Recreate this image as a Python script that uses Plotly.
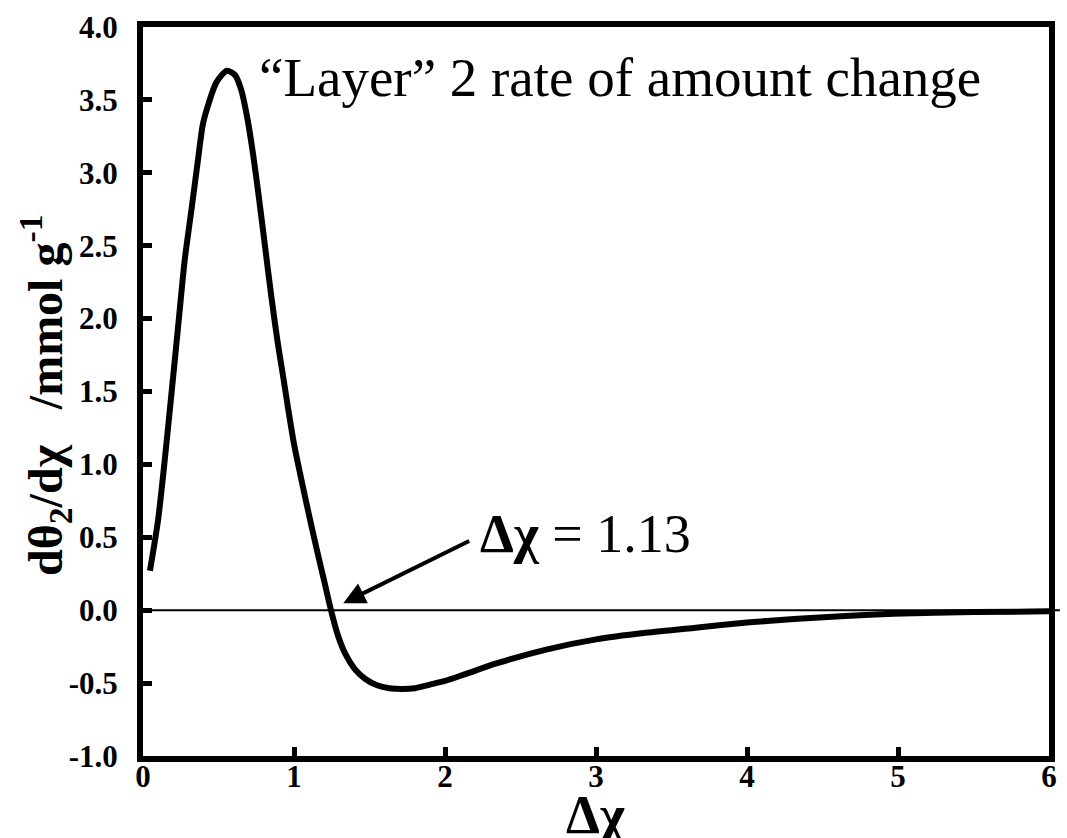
import plotly.graph_objects as go

# Rate of change of "layer" 2 amount versus Δχ
delta_chi = [0.046, 0.100, 0.144, 0.188, 0.232, 0.276, 0.320, 0.363, 0.396, 0.427,
             0.486, 0.555, 0.610, 0.650, 0.690, 0.730, 0.770, 0.810, 0.850, 0.890,
             0.930, 0.960, 1.000, 1.050, 1.100, 1.150, 1.200, 1.245, 1.290, 1.340,
             1.400, 1.470, 1.550, 1.630, 1.720, 1.800, 1.900, 2.000, 2.130, 2.340,
             2.670, 3.000, 3.330, 3.660, 4.000, 4.310, 4.650, 4.970, 5.500, 6.000]
rate = [0.27, 0.62, 1.03, 1.48, 1.94, 2.40, 2.74, 3.08, 3.33, 3.45,
        3.62, 3.70, 3.67, 3.57, 3.38, 3.12, 2.81, 2.48, 2.15, 1.85,
        1.59, 1.39, 1.14, 0.89, 0.65, 0.42, 0.20, 0.0, -0.17, -0.30,
        -0.40, -0.47, -0.515, -0.535, -0.54, -0.535, -0.51, -0.485, -0.44, -0.365,
        -0.27, -0.20, -0.155, -0.12, -0.085, -0.06, -0.04, -0.025, -0.013, -0.008]

x_ticks = [0, 1, 2, 3, 4, 5, 6]
x_tick_text = ["0", "1", "2", "3", "4", "5", "6"]
y_ticks = [4.0, 3.5, 3.0, 2.5, 2.0, 1.5, 1.0, 0.5, 0.0, -0.5, -1.0]
y_tick_text = ["4.0", "3.5", "3.0", "2.5", "2.0", "1.5", "1.0", "0.5", "0.0", "-0.5", "-1.0"]

crossing_value = "1.13"
arrow_tip = (1.326, 0.048)
arrow_tail = (2.17, 0.48)

serif = "Liberation Serif"

fig = go.Figure()
fig.add_trace(go.Scatter(
    x=delta_chi, y=rate, mode="lines",
    line=dict(color="black", width=6, shape="spline", smoothing=0.7),
    showlegend=False, hoverinfo="skip",
))

# zero reference line, running slightly past the right frame
fig.add_shape(type="line", xref="paper", yref="y", x0=0, x1=1.012, y0=0, y1=0,
              line=dict(color="black", width=2), layer="below")

axis_common = dict(
    showline=True, linecolor="black", linewidth=6, mirror=True,
    ticks="inside", tickcolor="black", tickwidth=5, ticklen=9,
    showgrid=False, zeroline=False,
    tickfont=dict(family=serif, size=31, color="black", weight="bold"),
)

fig.update_xaxes(range=[0, 6], tickvals=x_ticks, ticktext=x_tick_text,
                 ticklabelstandoff=-12, **axis_common)
fig.update_yaxes(range=[-1.0, 4.0], tickvals=y_ticks, ticktext=y_tick_text,
                 ticklabelstandoff=13, **axis_common)

annotations = [
    dict(text="“Layer” 2 rate of amount change", xref="paper", yref="paper",
         x=0.126, y=0.975, xanchor="left", yanchor="top", showarrow=False,
         font=dict(family=serif, size=55, color="black")),
    dict(text="<b>Δχ</b> = " + crossing_value, xref="x", yref="y",
         x=2.22, y=0.52, xanchor="left", yanchor="middle", showarrow=False,
         font=dict(family=serif, size=54, color="black")),
    dict(text="", x=arrow_tip[0], y=arrow_tip[1], ax=arrow_tail[0], ay=arrow_tail[1],
         xref="x", yref="y", axref="x", ayref="y", showarrow=True,
         arrowhead=2, arrowsize=1.1, arrowwidth=4, arrowcolor="black"),
    dict(text="<b>dθ<sub>2</sub>/dχ&nbsp;&nbsp;&nbsp;/mmol g<sup>-1</sup></b>",
         xref="paper", yref="paper",
         x=-0.107, y=0.494, xanchor="center", yanchor="middle", textangle=-90,
         showarrow=False, font=dict(family=serif, size=48, color="black")),
    dict(text="<b>Δχ</b>", xref="paper", yref="paper", x=0.5, y=-0.081,
         xanchor="center", yanchor="middle", showarrow=False,
         font=dict(family=serif, size=54, color="black")),
]
fig.update_layout(
    width=1067, height=838,
    margin=dict(l=143, r=10, t=26, b=82),
    paper_bgcolor="white", plot_bgcolor="white",
    annotations=annotations,
)

fig.write_html("out.html")
